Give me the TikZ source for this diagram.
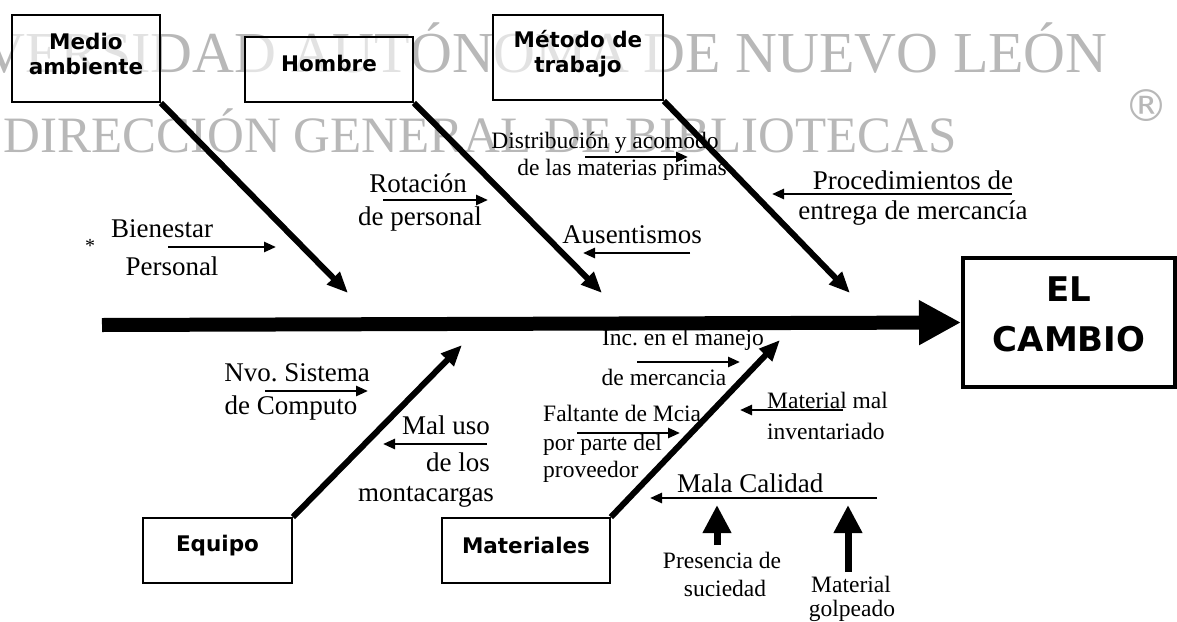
\documentclass[tikz,border=0pt]{standalone}
\usepackage{fontspec}
\setmainfont{Liberation Serif}
\newfontfamily\boxfont{DejaVu Sans}
\usetikzlibrary{arrows.meta}
\newcommand{\dropdepth}[1]{\rule[-#1]{0pt}{#1}}
\begin{document}
\frenchspacing
\begin{tikzpicture}[x=1pt,y=-1pt,
  wm/.style={text=black!28, inner sep=0pt, font=\fontsize{58}{60}\selectfont},
  cbox/.style={draw, line width=1.8pt, fill=white, fill opacity=0.6, text opacity=1, inner sep=0pt, align=center, font=\boxfont\bfseries\fontsize{21.5}{25}\selectfont},
  lbl/.style={inner sep=0pt, font=\fontsize{27}{30}\selectfont},
  slbl/.style={inner sep=0pt, font=\fontsize{23.5}{26}\selectfont},
  branch/.style={line width=6pt, -{Triangle[length=21pt,width=17pt]}},
  smallarrow/.style={line width=2.6pt, -{Triangle[length=12pt,width=10pt]}},
  spine/.style={line width=14pt, -{Triangle[length=42pt,width=42pt]}},
  bigarrow/.style={line width=7pt, -{Triangle[length=28pt,width=27pt]}}
]
\useasboundingbox (0,0) rectangle (1177,621);
% watermark
\node[wm, anchor=base east] (wm1) at (1108,72) {UNIVERSIDAD AUTÓNOMA DE NUEVO LEÓN};
\node[wm, anchor=base west, font=\fontsize{51}{54}\selectfont] (wm2) at (3,152) {DIRECCIÓN GENERAL DE BIBLIOTECAS};
\node[wm, font=\boxfont\fontsize{44}{46}\selectfont] (wmr) at (1146,106) {®};
% boxes
\node[cbox, minimum width=148pt, minimum height=87pt] (medio) at (86,58.5) {Medio\\ambiente\dropdepth{9pt}};
\node[cbox, minimum width=168pt, minimum height=65pt] (hombre) at (329,69.5) {Hombre\dropdepth{12pt}};
\node[cbox, minimum width=170pt, minimum height=85pt] (metodo) at (578,57.5) {Método de\\trabajo\dropdepth{13pt}};
\node[cbox, minimum width=149pt, minimum height=65pt] (equipo) at (217.5,550.5) {Equipo\dropdepth{14pt}};
\node[cbox, minimum width=168pt, minimum height=65pt] (materiales) at (526,550.5) {Materiales\dropdepth{10pt}};
\node[cbox, line width=4pt, minimum width=212pt, minimum height=129pt, font=\boxfont\bfseries\fontsize{34}{50}\selectfont] (cambio) at (1069,322.5) {EL\\CAMBIO\dropdepth{16pt}};
% spine
\coordinate (sp0) at (102,325);
\draw[spine] (sp0) -- (cambio.west);
% branches
\coordinate (tm) at (348,293);
\coordinate (th) at (602,293);
\coordinate (tme) at (850,293);
\coordinate (te) at (462,345);
\coordinate (tma) at (780,340);
\draw[branch] (medio.south east) -- (tm);
\draw[branch] (hombre.south east) -- (th);
\draw[branch] (metodo.south east) -- (tme);
\draw[branch] (equipo.north east) -- (te);
\draw[branch] (materiales.north east) -- (tma);
% Medio ambiente
\node[inner sep=0pt, font=\fontsize{20}{20}\selectfont] (star) at (90,246) {*};
\node[lbl] (bien) at (162,229) {Bienestar};
\node[lbl] (pers) at (172,266) {Personal};
\coordinate (a1s) at (168,247); \coordinate (a1e) at (276,247);
\draw[smallarrow] (a1s) -- (a1e);
% Hombre
\node[lbl] (rot) at (418,183) {Rotación};
\node[lbl] (rot2) at (420,219) {de personal};
\coordinate (a2s) at (383,200); \coordinate (a2e) at (488,200);
\draw[smallarrow] (a2s) -- (a2e);
\node[lbl] (aus) at (632,235) {Ausentismos};
\coordinate (a3s) at (690,253); \coordinate (a3e) at (583,253);
\draw[smallarrow] (a3s) -- (a3e);
% Metodo
\node[slbl] (dis) at (605,143) {Distribución y acomodo};
\node[slbl, anchor=east] (dis2) at (727,170) {de las materias primas};
\coordinate (a4s) at (585,157); \coordinate (a4e) at (688,157);
\draw[smallarrow] (a4s) -- (a4e);
\node[lbl] (pro) at (913,180) {Procedimientos de};
\node[lbl] (pro2) at (913,213) {entrega de mercancía};
\coordinate (a5s) at (1012,194); \coordinate (a5e) at (772,194);
\draw[smallarrow] (a5s) -- (a5e);
% Equipo
\node[lbl] (nvo) at (297,373) {Nvo. Sistema};
\node[lbl] (nvo2) at (291,408) {de Computo};
\coordinate (a6s) at (265,391); \coordinate (a6e) at (368,391);
\draw[smallarrow] (a6s) -- (a6e);
\node[lbl, anchor=east] (mal) at (490,425) {Mal uso};
\node[lbl, anchor=east] (mal2) at (490,462) {de los};
\node[lbl] (mal3) at (426,497) {montacargas};
\coordinate (a7s) at (487,444); \coordinate (a7e) at (383,444);
\draw[smallarrow] (a7s) -- (a7e);
% Materiales
\node[slbl] (inc) at (683,340) {Inc. en el manejo};
\node[slbl] (inc2) at (664,377) {de mercancia};
\coordinate (a8s) at (637,362); \coordinate (a8e) at (740,362);
\draw[smallarrow] (a8s) -- (a8e);
\node[slbl, anchor=west] (fal) at (543,413) {Faltante de Mcia};
\node[slbl, anchor=west] (fal2) at (543,445) {por parte del};
\node[slbl, anchor=west] (fal3) at (543,472) {proveedor};
\coordinate (a9s) at (577,433); \coordinate (a9e) at (680,433);
\draw[smallarrow] (a9s) -- (a9e);
\node[slbl, anchor=west] (mat) at (767,400) {Material mal};
\node[slbl, anchor=west] (mat2) at (767,431) {inventariado};
\coordinate (a10s) at (843,410); \coordinate (a10e) at (740,410);
\draw[smallarrow] (a10s) -- (a10e);
\node[lbl, anchor=west] (mc) at (677,483) {Mala Calidad};
\coordinate (a11s) at (877,498); \coordinate (a11e) at (650,498);
\draw[smallarrow] (a11s) -- (a11e);
\node[slbl] (pre) at (722,560) {Presencia de};
\node[slbl] (pre2) at (725,588) {suciedad};
\coordinate (a12s) at (717,545); \coordinate (a12e) at (717,505);
\draw[bigarrow] (a12s) -- (a12e);
\node[slbl] (gol) at (851,584) {Material};
\node[slbl] (gol2) at (852,611) {golpeado};
\coordinate (a13s) at (848,572); \coordinate (a13e) at (848,505);
\draw[bigarrow] (a13s) -- (a13e);
\end{tikzpicture}
\end{document}
